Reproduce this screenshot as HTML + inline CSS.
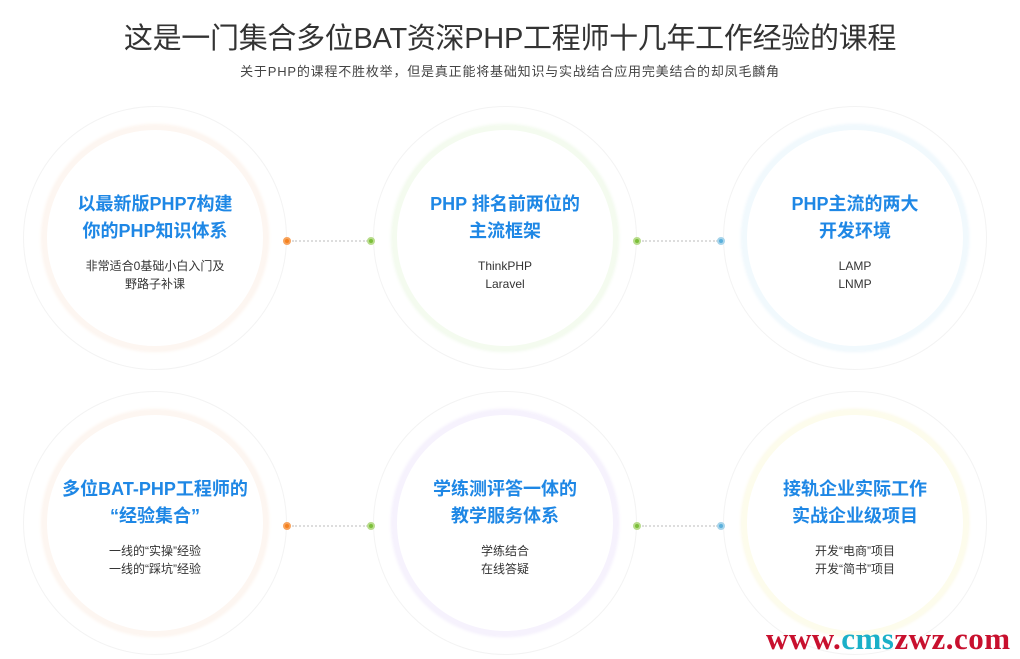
<!DOCTYPE html>
<html><head><meta charset="utf-8"><style>
body{margin:0;width:1020px;height:659px;background:#fff;position:relative;overflow:hidden;font-family:"Liberation Sans","Noto Sans CJK SC",sans-serif}
.t{position:absolute;left:0;width:1020px;text-align:center;top:15px;font-size:29px;color:#333;letter-spacing:-0.3px}
.s{position:absolute;left:0;width:1020px;text-align:center;top:61px;font-size:13px;color:#444;letter-spacing:0.8px}
.o{position:absolute;width:264px;height:264px;border-radius:50%;border:1px solid #f3f3f3;box-sizing:border-box}
.i{position:absolute;left:18px;top:18px;width:226px;height:226px;border-radius:50%;box-sizing:border-box;border:5px solid;display:flex;flex-direction:column;align-items:center;justify-content:center;padding-top:8px}
.h{color:#1e87e5;font-weight:bold;font-size:18px;line-height:27px;text-align:center}
.p{color:#333;font-size:12px;line-height:18px;text-align:center;margin-top:12px}
.dot{position:absolute;width:8px;height:8px;border-radius:50%;box-sizing:border-box;border:2px solid}
.ln{position:absolute;height:0;border-top:2px dotted #ddd}
.wm{position:absolute;left:766px;top:621px;font-family:"Liberation Serif",serif;font-weight:bold;font-size:31px;color:#c8102e;letter-spacing:0.5px}
</style></head><body>
<div class="t">这是一门集合多位BAT资深PHP工程师十几年工作经验的课程</div>
<div class="s">关于PHP的课程不胜枚举，但是真正能将基础知识与实战结合应用完美结合的却凤毛麟角</div>

<div class="o" style="left:23px;top:106px"><div class="i" style="border-color:#fdf6f1;box-shadow:0 0 4px #fbeee4"><div class="h">以最新版PHP7构建<br>你的PHP知识体系</div><div class="p">非常适合0基础小白入门及<br>野路子补课</div></div></div>
<div class="o" style="left:373px;top:106px"><div class="i" style="border-color:#f4fbef;box-shadow:0 0 4px #eaf6e2"><div class="h">PHP 排名前两位的<br>主流框架</div><div class="p">ThinkPHP<br>Laravel</div></div></div>
<div class="o" style="left:723px;top:106px"><div class="i" style="border-color:#f1f9fd;box-shadow:0 0 4px #e4f2fa"><div class="h">PHP主流的两大<br>开发环境</div><div class="p">LAMP<br>LNMP</div></div></div>
<div class="o" style="left:23px;top:391px"><div class="i" style="border-color:#fdf6f1;box-shadow:0 0 4px #fbeee4"><div class="h">多位BAT-PHP工程师的<br>“经验集合”</div><div class="p">一线的“实操”经验<br>一线的“踩坑”经验</div></div></div>
<div class="o" style="left:373px;top:391px"><div class="i" style="border-color:#f6f2fd;box-shadow:0 0 4px #ece5fa"><div class="h">学练测评答一体的<br>教学服务体系</div><div class="p">学练结合<br>在线答疑</div></div></div>
<div class="o" style="left:723px;top:391px"><div class="i" style="border-color:#fdfcec;box-shadow:0 0 4px #f9f5d6"><div class="h">接轨企业实际工作<br>实战企业级项目</div><div class="p">开发“电商”项目<br>开发“简书”项目</div></div></div>

<div class="ln" style="left:292px;width:76px;top:240px"></div>
<div class="ln" style="left:642px;width:76px;top:240px"></div>
<div class="ln" style="left:292px;width:76px;top:525px"></div>
<div class="ln" style="left:642px;width:76px;top:525px"></div>
<div class="dot" style="left:283px;top:237px;border-color:#f7a35c;background:#f58220"></div>
<div class="dot" style="left:367px;top:237px;border-color:#b8dc8c;background:#7cbf3a"></div>
<div class="dot" style="left:633px;top:237px;border-color:#b8dc8c;background:#7cbf3a"></div>
<div class="dot" style="left:717px;top:237px;border-color:#a8d4ea;background:#5ab0dc"></div>
<div class="dot" style="left:283px;top:522px;border-color:#f7a35c;background:#f58220"></div>
<div class="dot" style="left:367px;top:522px;border-color:#b8dc8c;background:#7cbf3a"></div>
<div class="dot" style="left:633px;top:522px;border-color:#b8dc8c;background:#7cbf3a"></div>
<div class="dot" style="left:717px;top:522px;border-color:#a8d4ea;background:#5ab0dc"></div>
<div class="wm">www.<span style="color:#1ab0c8">cms</span>zwz.com</div>
</body></html>
